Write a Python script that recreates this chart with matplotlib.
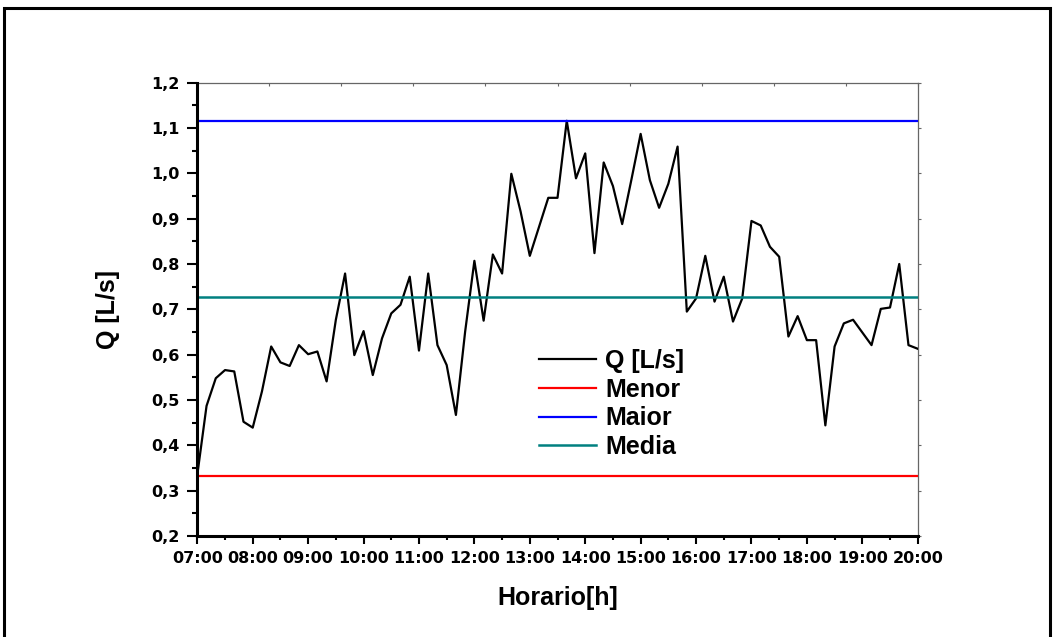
import numpy as np
import matplotlib
matplotlib.use("Agg")
import matplotlib.pyplot as plt
from matplotlib.patches import Rectangle

# vazao a cada 10 min, 07:00 ate 20:00
q_values = [0.335, 0.487, 0.548, 0.566, 0.563, 0.452, 0.439, 0.519, 0.618, 0.583,
            0.575, 0.621, 0.601, 0.607, 0.541, 0.677, 0.779, 0.599, 0.652, 0.555,
            0.636, 0.691, 0.710, 0.772, 0.609, 0.779, 0.621, 0.577, 0.467, 0.651,
            0.807, 0.675, 0.821, 0.779, 0.999, 0.916, 0.818, 0.882, 0.946, 0.946,
            1.116, 0.989, 1.044, 0.824, 1.024, 0.972, 0.888, 0.986, 1.087, 0.985,
            0.924, 0.977, 1.059, 0.695, 0.724, 0.818, 0.717, 0.772, 0.673, 0.724,
            0.895, 0.885, 0.838, 0.816, 0.640, 0.685, 0.632, 0.632, 0.444, 0.618,
            0.669, 0.677, 0.649, 0.621, 0.701, 0.704, 0.800, 0.621, 0.613]
start_hour = 7
step_minutes = 10
menor = 0.333
maior = 1.116
media = 0.728
hour_labels = ["07:00", "08:00", "09:00", "10:00", "11:00", "12:00", "13:00",
               "14:00", "15:00", "16:00", "17:00", "18:00", "19:00", "20:00"]
y_labels = ["0,2", "0,3", "0,4", "0,5", "0,6", "0,7", "0,8", "0,9", "1,0", "1,1", "1,2"]

hours = start_hour + np.arange(len(q_values)) * step_minutes / 60.0
hour_ticks = np.arange(start_hour, start_hour + len(hour_labels))
y_ticks = np.linspace(0.2, 1.2, len(y_labels))

fig = plt.figure(figsize=(10.54, 6.37), dpi=100)
ax = fig.add_axes([0.1872, 0.1586, 0.6835, 0.7116])

ax.plot(hours, q_values, color="black", lw=1.6, label="Q [L/s]")
ax.axhline(menor, color="#ff0000", lw=1.6, label="Menor")
ax.axhline(maior, color="#0000ff", lw=1.6, label="Maior")
ax.axhline(media, color="#008080", lw=1.8, label="Media")

ax.set_xlim(hour_ticks[0], hour_ticks[-1])
ax.set_ylim(0.2, 1.2)

tick_font = {"family": "DejaVu Sans", "weight": "bold", "size": 11.5}
ax.set_xticks(hour_ticks)
ax.set_xticklabels(hour_labels, fontdict=tick_font)
ax.set_xticks(hour_ticks[:-1] + 0.5, minor=True)
ax.set_yticks(y_ticks)
ax.set_yticklabels(y_labels, fontdict=tick_font)
ax.set_yticks(y_ticks[:-1] + 0.05, minor=True)

ax.tick_params(axis="x", which="major", direction="out", length=6, width=1.5, pad=5)
ax.tick_params(axis="x", which="minor", direction="out", length=3, width=1.5)
ax.tick_params(axis="y", which="major", direction="out", length=7.5, width=1.5, pad=5)
ax.tick_params(axis="y", which="minor", direction="out", length=3.5, width=1.5)

for side in ["left", "bottom"]:
    ax.spines[side].set_linewidth(2.2)
for side in ["top", "right"]:
    ax.spines[side].set_visible(False)

# eixos de cima e da direita (finos, cinza)
top = ax.secondary_xaxis("top")
top.set_xticks(start_hour + np.arange(11) * 1.3)
top.set_xticklabels([])
top.tick_params(direction="in", length=2, color="#666666", width=0.8)
top.spines["top"].set_color("#666666")
top.spines["top"].set_linewidth(0.9)

right = ax.secondary_yaxis("right")
right.set_yticks(y_ticks)
right.set_yticklabels([])
right.tick_params(direction="out", length=2.5, color="#666666", width=0.8)
right.spines["right"].set_color("#666666")
right.spines["right"].set_linewidth(0.9)

label_font = {"family": "Liberation Sans", "weight": "bold", "size": 18}
ax.set_xlabel("Horario[h]", fontdict=label_font, labelpad=14)
ax.set_ylabel("Q [L/s]", fontdict=label_font, labelpad=23)

ax.legend(loc="upper left", bbox_to_anchor=(0.474, 0.413), frameon=False,
          prop={"family": "Liberation Sans", "weight": "bold", "size": 18},
          handlelength=2.3, handletextpad=0.35, labelspacing=0.19,
          borderpad=0, borderaxespad=0)

# moldura da figura
fig.patches.append(Rectangle((4 / 1054, -0.05), 1046 / 1054, 1 - 8 / 637 + 0.05,
                             transform=fig.transFigure, fill=False,
                             edgecolor="black", lw=2.2))

plt.savefig("out.png", dpi=100)
